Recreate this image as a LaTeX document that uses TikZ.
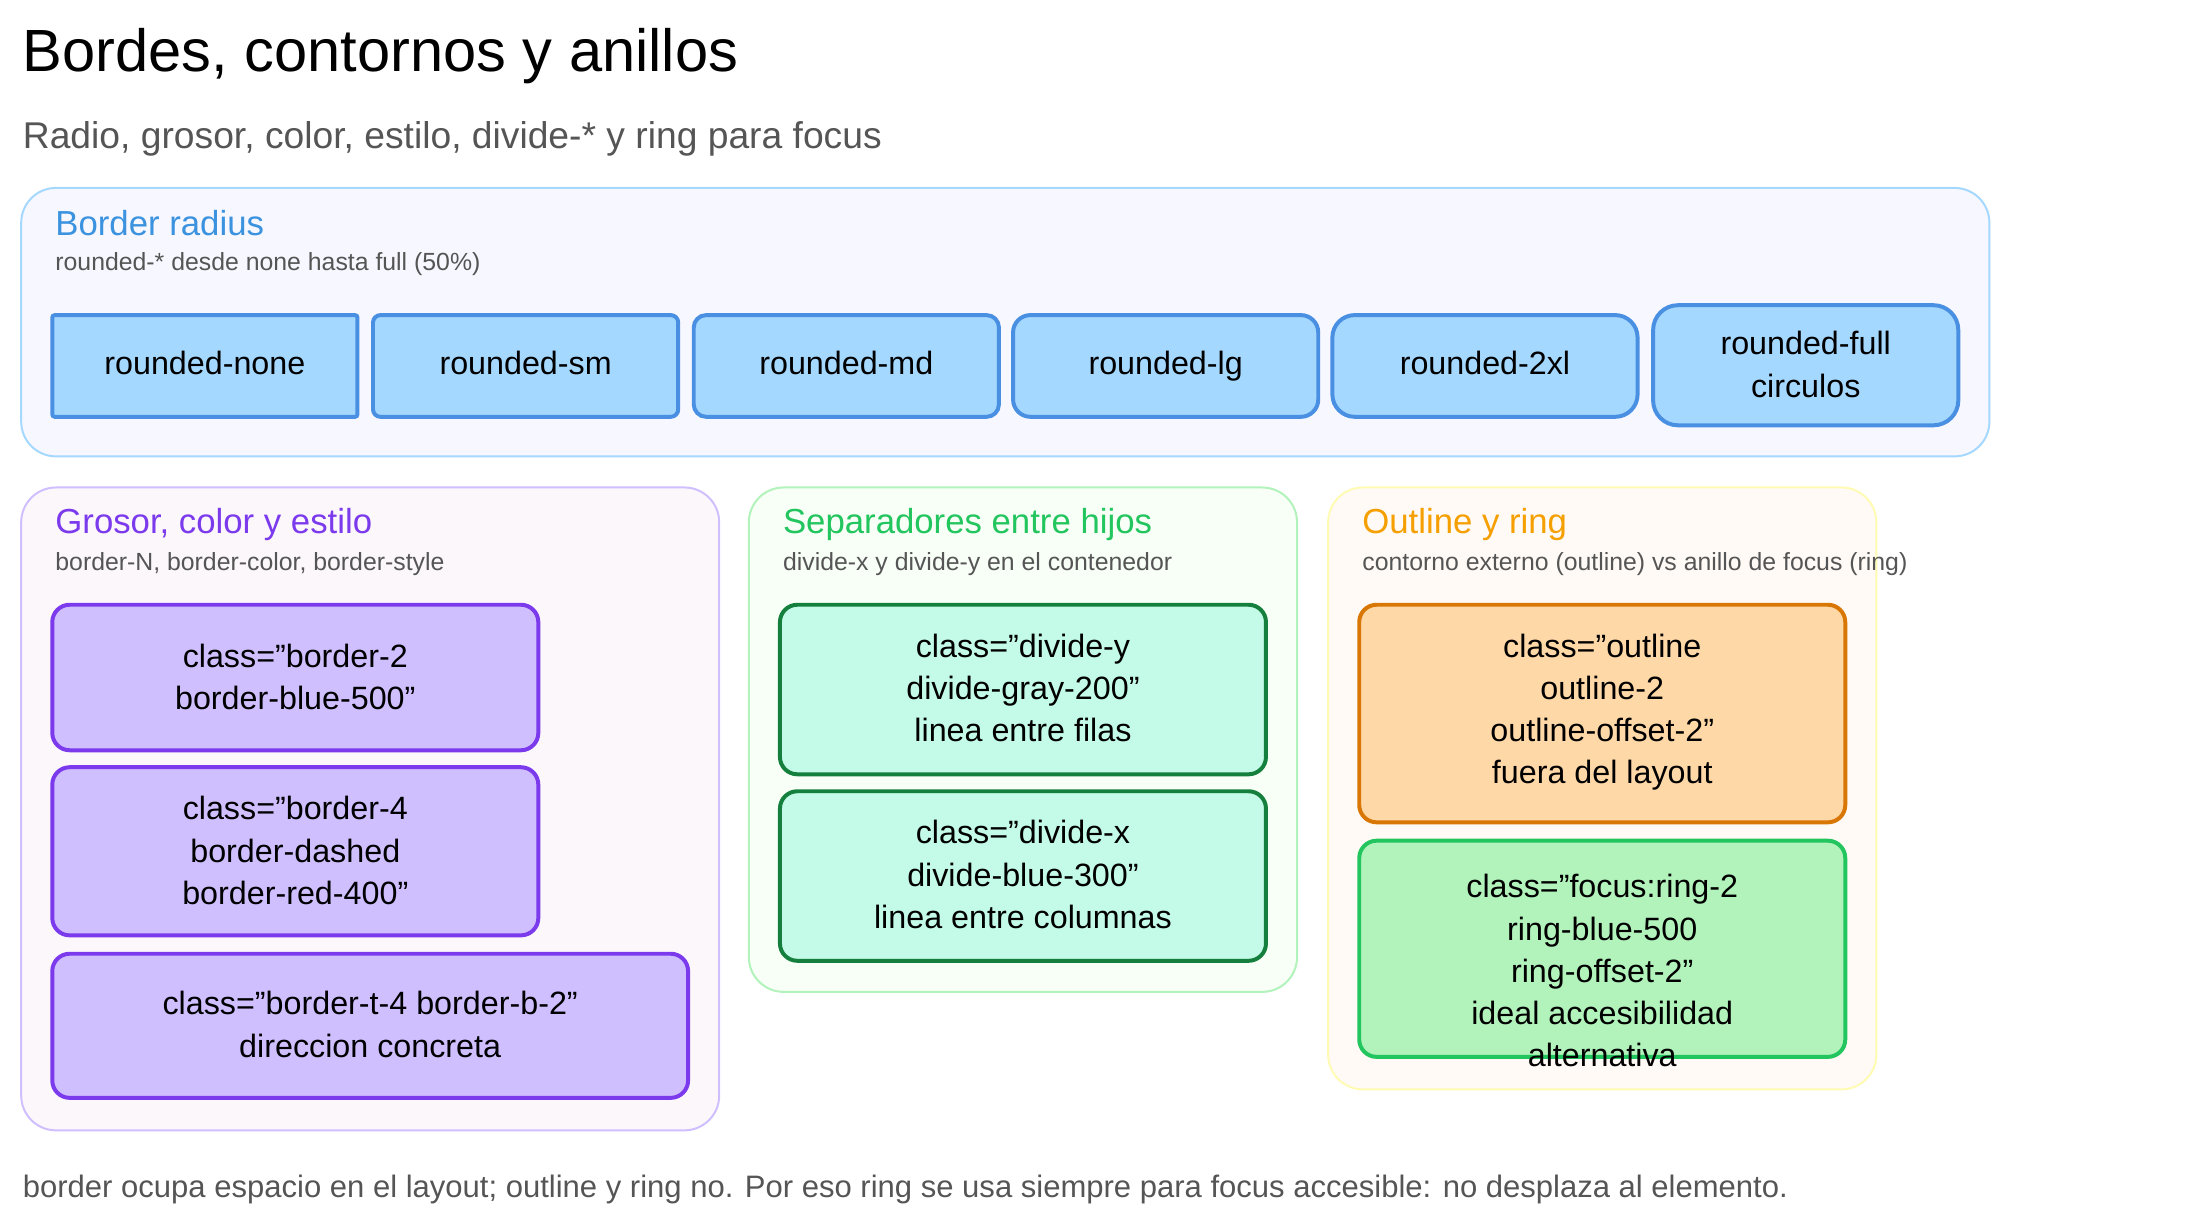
\documentclass[tikz,border=0pt]{standalone}
\usepackage{fontspec}
\setmainfont{Liberation Sans}
\usetikzlibrary{positioning}
\definecolor{blueln}{HTML}{4A90E2}
\definecolor{bluefl}{HTML}{A5D8FF}
\definecolor{bluettl}{HTML}{3B93E0}
\definecolor{violn}{HTML}{7C3AED}
\definecolor{viofl}{HTML}{D0BFFF}
\definecolor{grnln}{HTML}{15803D}
\definecolor{grnfl}{HTML}{C3FAE8}
\definecolor{grnttl}{HTML}{22C55E}
\definecolor{orgln}{HTML}{D97706}
\definecolor{orgfl}{HTML}{FFD8A8}
\definecolor{orgttl}{HTML}{F59F00}
\definecolor{ringfl}{HTML}{B2F2BB}
\definecolor{txtgray}{HTML}{555555}
\newcommand\qq{\symbol{34}}
\tikzset{
  panel/.style={rounded corners=14pt, line width=0.8pt},
  chip/.style={rounded corners=7pt, line width=1.6pt},
  chiptext/.style={align=center, font=\fontsize{13}{17}\selectfont},
  ptitle/.style={anchor=west, font=\fontsize{14}{16}\selectfont},
  psub/.style={anchor=west, text=txtgray, font=\fontsize{10}{12}\selectfont},
}
\begin{document}
\begin{tikzpicture}[x=0.02cm, y=-0.02cm]
  \useasboundingbox (0,0) rectangle (1550,860);
  % titles
  \node[anchor=west, font=\fontsize{24}{28}\selectfont] (title) at (10,40) {Bordes, contornos y anillos};
  \node[anchor=west, text=txtgray, font=\fontsize{15}{18}\selectfont] (subtitle) at (10,98) {Radio, grosor, color, estilo, divide-* y ring para focus};

  % border radius
  \draw[panel, draw=bluefl, fill=blue!3] (15,133) rectangle (1408,323);
  \node[ptitle, text=bluettl] (radt) at (33,158) {Border radius};
  \node[psub] (rads) at (33,187) {rounded-* desde none hasta full (50\%)};
  \foreach \x/\lbl/\r [count=\i] in {37/rounded-none/1pt, 264/rounded-sm/3pt, 491/rounded-md/5pt,
      717/rounded-lg/7pt, 943/rounded-2xl/9pt} {
    \draw[chip, rounded corners=\r, draw=blueln, fill=bluefl] (\x,223) rectangle ++(216,72);
    \node[chiptext] (rad\i) at (\x+108,259) {\strut\lbl};
  }
  \draw[chip, rounded corners=10pt, draw=blueln, fill=bluefl] (1170,216) rectangle (1386,301);
  \node[chiptext] (rad6) at (1278,258) {rounded-full\\circulos};

  % grosor
  \draw[panel, draw=viofl, fill=violet!3] (15,345) rectangle (509,800);
  \node[ptitle, text=violn] (grot) at (33,371) {Grosor, color y estilo};
  \node[psub] (gros) at (33,399) {border-N, border-color, border-style};
  \draw[chip, draw=violn, fill=viofl] (37,428) rectangle (381,531);
  \node[chiptext] (gro1) at (209,479) {class=\qq border-2\\border-blue-500\qq};
  \draw[chip, draw=violn, fill=viofl] (37,543) rectangle (381,662);
  \node[chiptext] (gro2) at (209,602) {class=\qq border-4\\border-dashed\\border-red-400\qq};
  \draw[chip, draw=violn, fill=viofl] (37,675) rectangle (487,777);
  \node[chiptext] (gro3) at (262,725) {class=\qq border-t-4 border-b-2\qq\\direccion concreta};

  % separadores
  \draw[panel, draw=ringfl, fill=green!3] (530,345) rectangle (918,702);
  \node[ptitle, text=grnttl] (sept) at (548,371) {Separadores entre hijos};
  \node[psub] (seps) at (548,399) {divide-x y divide-y en el contenedor};
  \draw[chip, draw=grnln, fill=grnfl] (552,428) rectangle (896,548);
  \node[chiptext] (sep1) at (724,487) {class=\qq divide-y\\divide-gray-200\qq\\linea entre filas};
  \draw[chip, draw=grnln, fill=grnfl] (552,560) rectangle (896,680);
  \node[chiptext] (sep2) at (724,619) {class=\qq divide-x\\divide-blue-300\qq\\linea entre columnas};

  % outline y ring
  \draw[panel, draw=yellow!30, fill=orange!4] (940,345) rectangle (1328,771);
  \node[ptitle, text=orgttl] (outt) at (958,371) {Outline y ring};
  \node[psub] (outs) at (958,399) {contorno externo (outline) vs anillo de focus (ring)};
  \draw[chip, draw=orgln, fill=orgfl] (962,428) rectangle (1306,582);
  \node[chiptext] (out1) at (1134,504) {class=\qq outline\\outline-2\\outline-offset-2\qq\\fuera del layout};
  \draw[chip, draw=grnttl, fill=ringfl] (962,595) rectangle (1306,748);
  \node[chiptext] (out2) at (1134,687) {class=\qq focus:ring-2\\ring-blue-500\\ring-offset-2\qq\\ideal accesibilidad\\alternativa};

  % footer
  \node[anchor=west, text=txtgray, font=\fontsize{12.5}{15}\selectfont] (foot) at (10,842)
    {border ocupa espacio en el layout; outline y ring no. Por eso ring se usa siempre para focus accesible: no desplaza al elemento.};
\end{tikzpicture}
\end{document}
